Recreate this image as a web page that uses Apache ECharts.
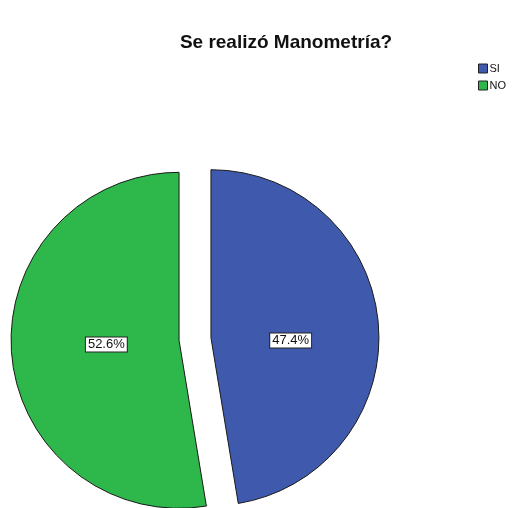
<!DOCTYPE html>
<html>
<head>
<meta charset="utf-8">
<script src="https://cdn.jsdelivr.net/npm/echarts@6/dist/echarts.min.js"></script>
<style>
  html, body { margin: 0; padding: 0; background: #ffffff; }
  #chart { width: 513px; height: 508px; }
</style>
</head>
<body>
<div id="chart"></div>
<script>
// Answer categories and their share (percent)
const categories = ['SI', 'NO'];
const percents = [47.4, 52.6];
const colors = ['#3F59AD', '#2EB84B'];
// Nudges so each value box sits level with the slice apex
const labelNudges = [[-7, 10], [14, -3]];

const chart = echarts.init(document.getElementById('chart'), null, { renderer: 'canvas' });

const pieData = categories.map((name, i) => ({
  name: name,
  value: percents[i],
  selected: true,
  itemStyle: { color: colors[i] }
}));

chart.setOption({
  animation: false,
  backgroundColor: '#ffffff',
  title: {
    text: 'Se realizó Manometría?',
    left: 286,
    top: 33,
    textAlign: 'center',
    padding: 0,
    textStyle: {
      fontFamily: 'Liberation Sans, Arial, sans-serif',
      fontSize: 19,
      fontWeight: 'bold',
      color: '#111111'
    }
  },
  legend: {
    orient: 'vertical',
    left: 478,
    top: 63,
    padding: 0,
    itemWidth: 9,
    itemHeight: 9,
    itemGap: 6,
    icon: 'rect',
    selectedMode: false,
    itemStyle: { borderColor: '#222222', borderWidth: 1 },
    textStyle: {
      fontFamily: 'Liberation Sans, Arial, sans-serif',
      fontSize: 11,
      color: '#111111',
      padding: [0, 0, 0, -3]
    },
    data: categories
  },
  series: [{
    type: 'pie',
    center: [195, 339],
    radius: 168,
    startAngle: 90,
    clockwise: true,
    selectedMode: 'multiple',
    selectedOffset: 16,
    avoidLabelOverlap: false,
    emphasis: { disabled: true },
    itemStyle: { borderColor: '#1a1a1a', borderWidth: 1 },
    label: {
      show: true,
      position: 'inside',
      formatter: p => p.value.toFixed(1) + '%',
      fontFamily: 'Liberation Sans, Arial, sans-serif',
      fontSize: 13,
      color: '#111111',
      backgroundColor: '#ffffff',
      borderColor: '#222222',
      borderWidth: 1,
      padding: [1, 2, 0, 2]
    },
    labelLayout: p => ({ dx: labelNudges[p.dataIndex][0], dy: labelNudges[p.dataIndex][1] }),
    labelLine: { show: false },
    data: pieData
  }]
});
</script>
</body>
</html>
